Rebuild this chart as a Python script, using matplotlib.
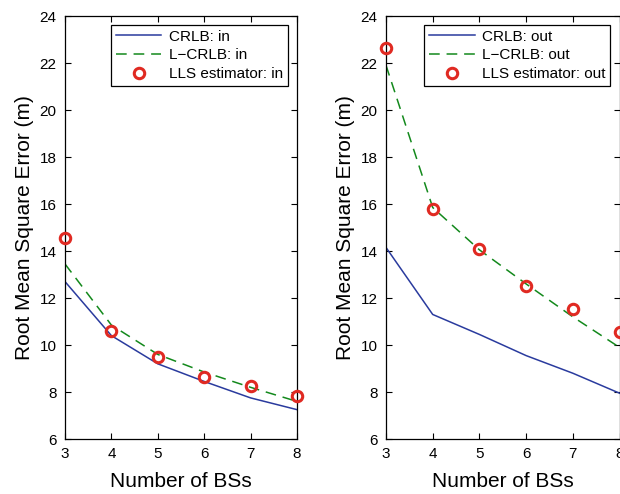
import matplotlib.pyplot as plt

plt.rcParams['font.family'] = ['Liberation Sans', 'DejaVu Sans']

# Number of base stations
n_bs = [3, 4, 5, 6, 7, 8]

# indoor (left panel)
crlb_in = [12.7, 10.4, 9.2, 8.45, 7.75, 7.25]
lcrlb_in = [13.45, 10.85, 9.6, 8.85, 8.2, 7.6]
lls_in = [14.55, 10.6, 9.5, 8.65, 8.25, 7.85]

# outdoor (right panel)
crlb_out = [14.15, 11.3, 10.45, 9.55, 8.8, 7.95]
lcrlb_out = [21.9, 15.85, 14.05, 12.6, 11.2, 9.9]
lls_out = [22.65, 15.8, 14.1, 12.5, 11.55, 10.55]

fig = plt.figure(figsize=(6.2, 4.94), dpi=100)
ax1 = fig.add_axes([0.1048, 0.1113, 0.3742, 0.8563])
ax2 = fig.add_axes([0.6226, 0.1113, 0.3766, 0.8563])

panels = [
    (ax1, crlb_in, lcrlb_in, lls_in, 'in'),
    (ax2, crlb_out, lcrlb_out, lls_out, 'out'),
]

for ax, crlb, lcrlb, lls, tag in panels:
    ax.plot(n_bs, crlb, color='#2a3b9e', lw=1.1, label=f'CRLB: {tag}')
    ax.plot(n_bs, lcrlb, color='#13891c', lw=1.1, ls=(0, (7, 4.5)),
            label=f'L\u2212CRLB: {tag}')
    ax.plot(n_bs, lls, ls='none', marker='o', ms=7.5, mfc='none',
            mec='#e02a22', mew=2.2, label=f'LLS estimator: {tag}',
            clip_on=False, zorder=5)
    ax.set_xlim(3, 8)
    ax.set_ylim(6, 24)
    ax.set_xticks(n_bs)
    ax.set_yticks(range(6, 25, 2))
    ax.tick_params(direction='in', top=True, right=True, labelsize=11,
                   length=4, width=0.8, pad=6)
    for s in ax.spines.values():
        s.set_linewidth(0.9)
    ax.set_xlabel('Number of BSs', fontsize=15, labelpad=8)
    ax.set_ylabel('Root Mean Square Error (m)', fontsize=15, labelpad=4)
    leg = ax.legend(loc='upper right', fontsize=11, numpoints=1,
                    fancybox=False, edgecolor='black', framealpha=1,
                    handlelength=3.0, borderpad=0.3, labelspacing=0.3,
                    borderaxespad=0.6, handletextpad=0.5)
    leg.get_frame().set_linewidth(0.9)

fig.savefig('out.png', dpi=100)
